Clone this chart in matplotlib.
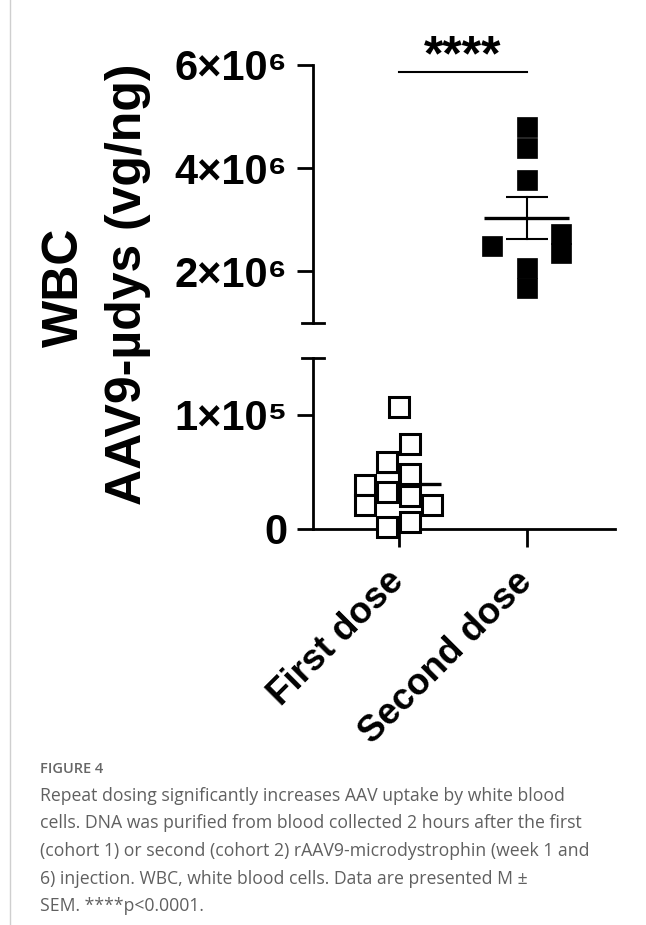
import matplotlib
matplotlib.use("Agg")
import matplotlib.pyplot as plt
from matplotlib.lines import Line2D
import numpy as np

# ---------------- data ----------------
categories = ["First dose", "Second dose"]
first_dose = [1.067e5, 0.746e5, 0.59e5, 0.48e5, 0.386e5, 0.327e5,
              0.29e5, 0.21e5, 0.21e5, 0.015e5, 0.064e5]
first_jitter = [0.0, 0.09, -0.09, 0.09, -0.26, -0.09, 0.09, -0.26, 0.26, -0.09, 0.09]
second_dose = [4.79e6, 4.40e6, 3.78e6, 2.49e6, 2.72e6, 2.35e6, 2.06e6, 1.67e6]
second_jitter = [0.0, 0.0, 0.0, -0.27, 0.27, 0.27, 0.0, 0.0]
top_ticks = [2e6, 4e6, 6e6]
top_ticklabels = ["2\u00d710\u2076", "4\u00d710\u2076", "6\u00d710\u2076"]
bottom_ticks = [0, 1e5]
bottom_ticklabels = ["0", "1\u00d710\u2075"]
significance = "****"
ylabel_lines = ["WBC", "AAV9-\u00b5dys (vg/ng)"]
caption_title = "FIGURE 4"
caption_lines = [
    "Repeat dosing significantly increases AAV uptake by white blood",
    "cells. DNA was purified from blood collected 2 hours after the first",
    "(cohort 1) or second (cohort 2) rAAV9-microdystrophin (week 1 and",
    "6) injection. WBC, white blood cells. Data are presented M \u00b1",
    "SEM. ****p<0.0001.",
]

# ---------------- style ----------------
plt.rcParams["font.family"] = ["Liberation Sans", "DejaVu Sans"]
plt.rcParams["font.weight"] = "bold"

W, H = 646, 925
fig = plt.figure(figsize=(W / 100, H / 100), dpi=100)

def fx(px):
    return px / W

def fy(py):
    return 1 - py / H

x_left, x_right = 313, 615
ax_top = fig.add_axes([fx(x_left), fy(323), fx(x_right) - fx(x_left), fy(65) - fy(323)])
ax_bot = fig.add_axes([fx(x_left), fy(529), fx(x_right) - fx(x_left), fy(358) - fy(529)])

xlim = (-0.67, 1.69)
SPINE_LW = 2.0
for ax in (ax_top, ax_bot):
    ax.set_xlim(*xlim)
    ax.patch.set_alpha(0)
    for s in ("top", "right"):
        ax.spines[s].set_visible(False)
    ax.spines["left"].set_linewidth(SPINE_LW)
    ax.tick_params(axis="y", length=11.5, width=SPINE_LW, pad=7, labelsize=30)

ax_top.spines["bottom"].set_visible(False)
ax_top.set_xticks([])
ax_top.set_ylim(1e6, 6e6)
ax_top.set_yticks(top_ticks)
ax_top.set_yticklabels(top_ticklabels)

ax_bot.set_ylim(0, 1.5e5)
ax_bot.set_yticks(bottom_ticks)
ax_bot.set_yticklabels(bottom_ticklabels)
ax_bot.spines["bottom"].set_linewidth(SPINE_LW)
ax_bot.set_xticks(range(len(categories)))
ax_bot.set_xticklabels(categories, rotation=45, ha="right", va="center",
                       rotation_mode="anchor", fontsize=26.5, fontweight="bold")
ax_bot.tick_params(axis="x", length=13, width=SPINE_LW, pad=21)

# break caps
for ax, yy in ((ax_top, 0.0), (ax_bot, 1.0)):
    ax.add_line(Line2D([-0.036, 0.036], [yy, yy], transform=ax.transAxes,
                       color="black", lw=SPINE_LW, clip_on=False))

# ---------------- data marks ----------------
MS = 14.5
x1 = np.array(first_jitter) + 0
ax_bot.plot(x1, first_dose, ls="none", marker="s", ms=MS, mfc="white",
            mec="black", mew=2.2, zorder=5, clip_on=False)
x2 = np.array(second_jitter) + 1
ax_top.plot(x2, second_dose, ls="none", marker="s", ms=MS, mfc="black",
            mec="black", mew=0.5, zorder=5, clip_on=False)

def mean_sem(ax, xc, vals):
    v = np.asarray(vals)
    m = v.mean()
    sem = v.std(ddof=1) / np.sqrt(len(v))
    ax.plot([xc - 0.33, xc + 0.33], [m, m], color="black", lw=2.4, zorder=4,
            solid_capstyle="butt")
    ax.plot([xc, xc], [m - sem, m + sem], color="black", lw=1.5, zorder=4)
    for yy in (m - sem, m + sem):
        ax.plot([xc - 0.165, xc + 0.165], [yy, yy], color="black", lw=1.5,
                zorder=4, solid_capstyle="butt")

mean_sem(ax_bot, 0, first_dose)
mean_sem(ax_top, 1, second_dose)

# significance bar
ax_top.plot([0, 1], [5.86e6, 5.86e6], color="black", lw=1.5, clip_on=False)
ax_top.text(0.5, 5.89e6, significance, ha="center", va="baseline",
            fontsize=36, fontweight="bold", clip_on=False)

# y label
fig.text(fx(65), fy(287), ylabel_lines[0], rotation=90, ha="center",
         va="center", fontsize=36, fontweight="bold")
fig.text(fx(128), fy(284), ylabel_lines[1], rotation=90, ha="center",
         va="center", fontsize=36, fontweight="bold")

# page border line
fig.add_artist(Line2D([fx(10), fx(10)], [0, 1], transform=fig.transFigure,
                      color="#cfcfcf", lw=1.0))

# caption
fig.text(fx(40), fy(769), caption_title, ha="left", va="center",
         fontsize=10.5, fontweight="semibold", color="#666666",
         family=["Open Sans", "DejaVu Sans"])
for i, line in enumerate(caption_lines):
    fig.text(fx(40), fy(796 + i * 27.5), line, ha="left", va="center",
             fontsize=12.7, fontweight="normal", color="#606060",
             family=["Open Sans", "DejaVu Sans"])

fig.savefig("out.png", dpi=100)
